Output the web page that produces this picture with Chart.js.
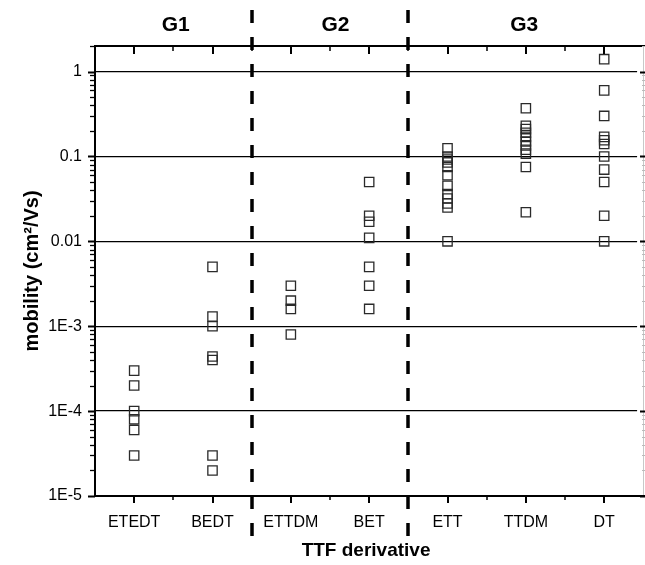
<!DOCTYPE html>
<html><head><meta charset="utf-8">
<script src="https://cdn.jsdelivr.net/npm/chart.js@4.4.0/dist/chart.umd.min.js"></script>
<style>html,body{margin:0;padding:0;background:#fff;overflow:hidden}#wrap{width:645px;height:565px;position:relative}</style>
</head><body><div id="wrap"><canvas id="c" width="645" height="565"></canvas></div>
<script>
const categories = ['ETEDT', 'BEDT', 'ETTDM', 'BET', 'ETT', 'TTDM', 'DT'];
const groupLabels = ['G1', 'G2', 'G3'];
const groupCenters = [0.53, 2.57, 4.98];
const groupDividers = [1.5, 3.5];
const yTickValues = [1e-5, 1e-4, 1e-3, 0.01, 0.1, 1];
const yTickLabels = ['1E-5', '1E-4', '1E-3', '0.01', '0.1', '1'];

const ETEDT = [3e-4, 2e-4, 1e-4, 8e-5, 6e-5, 3e-5];
const BEDT = [5e-3, 1.3e-3, 1.0e-3, 4.4e-4, 4.0e-4, 3e-5, 2e-5];
const ETTDM = [3e-3, 2e-3, 1.6e-3, 8e-4];
const BET = [0.05, 0.02, 0.017, 0.011, 5e-3, 3e-3, 1.6e-3];
const ETT = [0.125, 0.1, 0.092, 0.085, 0.075, 0.06, 0.045, 0.036, 0.032, 0.028, 0.025, 0.01];
const TTDM = [0.37, 0.23, 0.21, 0.19, 0.17, 0.15, 0.135, 0.12, 0.108, 0.075, 0.022];
const DT = [1.4, 0.6, 0.3, 0.17, 0.155, 0.14, 0.1, 0.07, 0.05, 0.02, 0.01];

const seriesList = [ETEDT, BEDT, ETTDM, BET, ETT, TTDM, DT];
const points = [];
seriesList.forEach((arr, i) => arr.forEach(v => points.push({x: i, y: v})));

const FONT = "'Liberation Sans', Arial, Helvetica, sans-serif";

const decor = {
  id: 'decor',
  afterDraw(chart) {
    const ctx = chart.ctx;
    const xs = chart.scales.x, ys = chart.scales.y;
    const a = chart.chartArea;
    const L = a.left, R = 645, T = a.top, B = a.bottom;
    ctx.save();
    ctx.lineCap = 'butt';
    // faint right axis
    ctx.strokeStyle = '#c8c8c8';
    ctx.lineWidth = 1;
    ctx.beginPath(); ctx.moveTo(643.5, T); ctx.lineTo(643.5, B); ctx.stroke();
    ctx.strokeStyle = '#000';
    // axes lines
    ctx.lineWidth = 2;
    ctx.beginPath();
    ctx.moveTo(L, T); ctx.lineTo(R, T);
    ctx.moveTo(L, B); ctx.lineTo(R, B);
    ctx.moveTo(L, T - 1); ctx.lineTo(L, B + 1);
    ctx.stroke();
    // x ticks
    for (let i = 0; i < categories.length; i++) {
      const px = Math.round(xs.getPixelForValue(i));
      ctx.lineWidth = 2;
      ctx.beginPath();
      ctx.moveTo(px, B); ctx.lineTo(px, B + 7);
      ctx.moveTo(px, T); ctx.lineTo(px, T + 8);
      ctx.stroke();
    }
    for (let i = 0; i < categories.length - 1; i++) {
      const px = Math.round(xs.getPixelForValue(i + 0.5));
      ctx.lineWidth = 1.5;
      ctx.beginPath();
      ctx.moveTo(px, B); ctx.lineTo(px, B + 4);
      ctx.moveTo(px, T); ctx.lineTo(px, T + 5);
      ctx.stroke();
    }
    // y ticks
    yTickValues.forEach(v => {
      const py = Math.round(ys.getPixelForValue(v)) + 0.5;
      ctx.lineWidth = 2;
      ctx.beginPath(); ctx.moveTo(L - 7, py); ctx.lineTo(L, py); ctx.stroke();
      ctx.beginPath(); ctx.moveTo(640, py); ctx.lineTo(645, py); ctx.stroke();
      for (let m = 2; m <= 9; m++) {
        const val = v * m;
        if (val > ys.max) break;
        const pm = Math.round(ys.getPixelForValue(val)) + 0.5;
        ctx.lineWidth = 1.3;
        ctx.strokeStyle = '#000';
        ctx.beginPath(); ctx.moveTo(L - 5, pm); ctx.lineTo(L, pm); ctx.stroke();
        ctx.strokeStyle = '#bbb';
        ctx.lineWidth = 1;
        ctx.beginPath(); ctx.moveTo(642, pm); ctx.lineTo(645, pm); ctx.stroke();
        ctx.strokeStyle = '#000';
      }
    });
    // group dividers
    ctx.lineWidth = 3.5;
    ctx.setLineDash([13, 14]);
    groupDividers.forEach(d => {
      const px = Math.round(xs.getPixelForValue(d));
      ctx.beginPath(); ctx.moveTo(px, 10); ctx.lineTo(px, 540); ctx.stroke();
    });
    ctx.setLineDash([]);
    // group labels
    ctx.fillStyle = '#000';
    ctx.font = 'bold 21px ' + FONT;
    ctx.textAlign = 'center';
    ctx.textBaseline = 'middle';
    groupLabels.forEach((g, i) => {
      ctx.fillText(g, xs.getPixelForValue(groupCenters[i]), 25);
    });
    ctx.restore();
  }
};

new Chart(document.getElementById('c'), {
  type: 'scatter',
  data: {
    datasets: [{
      data: points,
      pointStyle: 'rect',
      radius: 6.6,
      hoverRadius: 6.6,
      borderWidth: 1.3,
      borderColor: '#2a2a2a',
      backgroundColor: 'rgba(0,0,0,0)'
    }]
  },
  options: {
    responsive: false,
    animation: false,
    devicePixelRatio: 1,
    layout: {padding: {left: 0, top: 46, right: 2, bottom: 0}},
    plugins: {legend: {display: false}, tooltip: {enabled: false}},
    scales: {
      x: {
        type: 'linear',
        min: -0.5,
        max: 6.42,
        afterBuildTicks: s => { s.ticks = categories.map((c, i) => ({value: i})); },
        afterFit: s => { s.height = 69; },
        ticks: {
          autoSkip: false,
          maxRotation: 0,
          padding: 17,
          color: '#000',
          font: {family: FONT, size: 16},
          callback: v => categories[v]
        },
        grid: {display: false, drawTicks: false},
        border: {display: false},
        title: {
          display: true,
          text: 'TTF derivative',
          color: '#000',
          font: {family: FONT, size: 19, weight: 'bold'},
          padding: {top: 0, bottom: 3}
        }
      },
      y: {
        type: 'logarithmic',
        min: 1e-5,
        max: 2,
        afterBuildTicks: s => { s.ticks = yTickValues.map(v => ({value: v})); },
        afterFit: s => { s.width = 95; },
        ticks: {
          padding: 13,
          color: '#000',
          font: {family: FONT, size: 16},
          callback: v => { const i = yTickValues.findIndex(t => Math.abs(t - v) / t < 1e-6); return i >= 0 ? yTickLabels[i] : ''; }
        },
        grid: {color: '#000', lineWidth: 1.3, drawTicks: false},
        border: {display: false},
        title: {
          display: true,
          text: 'mobility (cm²/Vs)',
          color: '#000',
          font: {family: FONT, size: 20, weight: 'bold'},
          padding: {top: 20, bottom: 0}
        }
      }
    }
  },
  plugins: [decor]
});
</script>
</body></html>
